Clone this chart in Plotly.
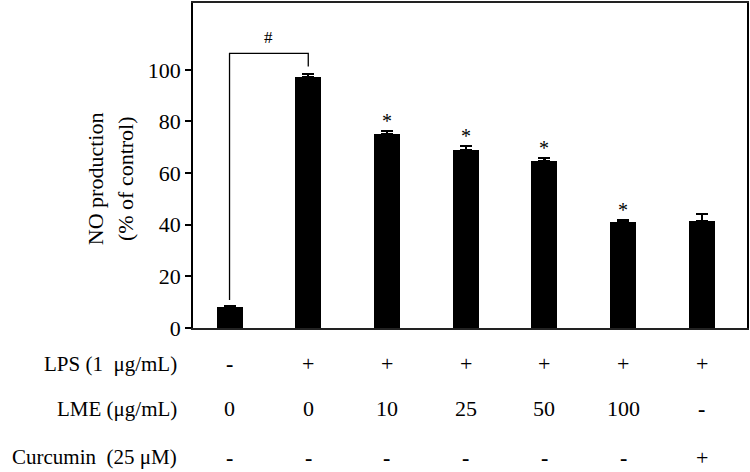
import plotly.graph_objects as go

FONT = "Liberation Serif"

# one bar per treatment group, left to right
GROUPS = [0, 1, 2, 3, 4, 5, 6]
NO_PRODUCTION = [8.0, 97.2, 75.2, 68.9, 64.6, 40.9, 41.3]
ERROR_UP = [0.3, 1.2, 1.0, 1.5, 1.2, 0.9, 2.8]
STARS = ["", "", "*", "*", "*", "*", ""]

# bracket for the control vs LPS comparison
BRACKET_X = [0, 0, 1, 1]
BRACKET_Y = [10.8, 106.4, 106.4, 101.3]
BRACKET_MARK = "#"

Y_TICKS = [0, 20, 40, 60, 80, 100]

# treatment table under the axis
ROW_LABELS = ["LPS (1\u00a0 \u03bcg/mL)", "LME (\u03bcg/mL)", "Curcumin\u00a0 (25 \u03bcM)"]
LPS = ["-", "+", "+", "+", "+", "+", "+"]
LME = ["0", "0", "10", "25", "50", "100", "-"]
CURCUMIN = ["-", "-", "-", "-", "-", "-", "+"]
ROW_Y = [-0.110, -0.248, -0.3976]

fig = go.Figure()

fig.add_trace(
    go.Bar(
        x=GROUPS,
        y=NO_PRODUCTION,
        width=0.33,
        marker=dict(color="black", line=dict(width=0)),
        error_y=dict(
            type="data",
            symmetric=False,
            array=ERROR_UP,
            arrayminus=[0] * len(ERROR_UP),
            color="black",
            thickness=2.3,
            width=6,
        ),
        showlegend=False,
    )
)

fig.add_trace(
    go.Scatter(
        x=BRACKET_X,
        y=BRACKET_Y,
        mode="lines",
        line=dict(color="black", width=1.3),
        showlegend=False,
        hoverinfo="skip",
    )
)

anotacoes = []

for g, v, e, s in zip(GROUPS, NO_PRODUCTION, ERROR_UP, STARS):
    if s:
        anotacoes.append(dict(
            x=g, y=v + e, xref="x", yref="y", text=s, showarrow=False,
            yanchor="middle", yshift=10,
            font=dict(family=FONT, size=20, color="black"),
        ))

anotacoes.append(dict(
    x=(BRACKET_X[0] + BRACKET_X[-1]) / 2, y=BRACKET_Y[1], xref="x", yref="y",
    text=BRACKET_MARK, showarrow=False, yanchor="middle", yshift=16,
    font=dict(family=FONT, size=17, color="black"),
))

# y title as two rotated lines
anotacoes.append(dict(
    x=-0.1757, y=0.46, xref="paper", yref="paper", text="NO production",
    textangle=-90, showarrow=False, xanchor="center", yanchor="middle",
    font=dict(family=FONT, size=22, color="black"),
))
anotacoes.append(dict(
    x=-0.1217, y=0.46, xref="paper", yref="paper", text="(% of control)",
    textangle=-90, showarrow=False, xanchor="center", yanchor="middle",
    font=dict(family=FONT, size=22, color="black"),
))


def celula(valor):
    # the minus signs in the table are short heavy dashes
    return "<b>-</b>" if valor == "-" else valor


for rotulo, linha, yy in zip(ROW_LABELS, [LPS, LME, CURCUMIN], ROW_Y):
    anotacoes.append(dict(
        x=-0.0252, y=yy, xref="paper", yref="paper", text=rotulo,
        showarrow=False, xanchor="right", yanchor="middle",
        font=dict(family=FONT, size=21, color="black"),
    ))
    for g, valor in zip(GROUPS, linha):
        anotacoes.append(dict(
            x=g, y=yy, xref="x", yref="paper", text=celula(valor),
            showarrow=False, xanchor="center", yanchor="middle",
            font=dict(family=FONT, size=22, color="black"),
        ))

fig.update_layout(
    width=750,
    height=472,
    margin=dict(l=193, r=1, t=1, b=144),
    paper_bgcolor="white",
    plot_bgcolor="white",
    annotations=anotacoes,
    bargap=0,
)

fig.update_xaxes(
    range=[-0.464, 6.573],
    showticklabels=False,
    ticks="",
    showgrid=False,
    zeroline=False,
    showline=True,
    mirror=True,
    linecolor="#222",
    linewidth=2,
)

fig.update_yaxes(
    range=[0, 125.9],
    tickvals=Y_TICKS,
    ticks="outside",
    ticklen=6,
    tickwidth=1.5,
    tickcolor="black",
    showgrid=False,
    zeroline=False,
    showline=True,
    mirror=True,
    linecolor="black",
    linewidth=1.5,
    tickfont=dict(family=FONT, size=22, color="black"),
)

# page body margin would push the figure 8px off the window
fig.write_html(
    "out.html",
    config={"displayModeBar": False},
    post_script="document.body.style.margin='0px';",
)
